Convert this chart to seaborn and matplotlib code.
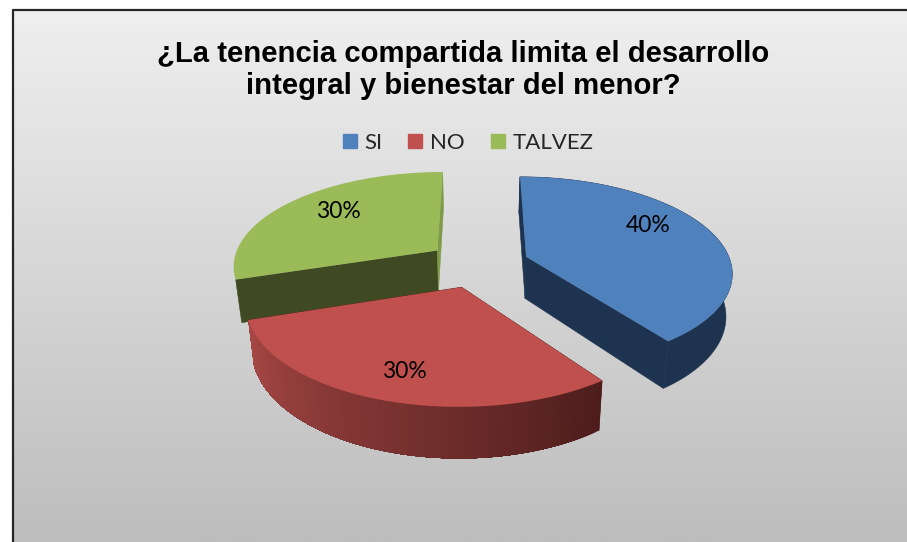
import numpy as np
import matplotlib
matplotlib.use("Agg")
import matplotlib.pyplot as plt
from matplotlib.lines import Line2D
import seaborn as sns

# data
categories = ["SI", "NO", "TALVEZ"]
values = [40, 30, 30]
title = "¿La tenencia compartida limita el desarrollo\nintegral y bienestar del menor?"

top_colors = ["#4f81bd", "#c0504d", "#9bbb59"]
wall_colors = ["#1d3350", "#4d1d1c", "#404a22"]
end_face_colors = ["#1d3350", "#4d1d1c", "#7f9a48"]

# look of the fake 3d pie, in pixels of the 907x542 picture
CX, CY = 478, 264
RX, RY = 205, 94
PERSP = 0.15      # how much nearer parts grow
EXPLODE = 0.25
DEPTH = 42
LOWER_SHRINK = 0.975
label_pos = [(648, 226), (404, 371), (338, 211)]

sns.set_style("white")
plt.rcParams["font.family"] = ["Lato", "DejaVu Sans"]


def project(theta, r, mid, lower=False):
    """theta runs clockwise from the back of the disc, in radians."""
    X = EXPLODE * np.sin(mid) + r * np.sin(theta)
    Z = EXPLODE * np.cos(mid) + r * np.cos(theta)
    s = 1 / (1 + PERSP * Z)
    x = RX * X * s
    y = CY - RY * Z * s
    if lower:
        x = x * LOWER_SHRINK
        y = y + DEPTH * s
    return CX + x, y


def draw_slice(ax, start, end, top, wall, end_face, shade=None, outer=True):
    mid = (start + end) / 2
    thetas = np.linspace(start, end, 90)
    tx, ty = project(thetas, 1.0, mid)
    bx, by = project(thetas, 1.0, mid, lower=True)
    ax0, ay0 = project(0.0, 0.0, mid)
    ax1, ay1 = project(0.0, 0.0, mid, lower=True)

    # flat side faces
    ax.fill([ax0, tx[0], bx[0], ax1], [ay0, ty[0], by[0], ay1], color=wall, lw=0.4, zorder=2)
    ax.fill([ax0, tx[-1], bx[-1], ax1], [ay0, ty[-1], by[-1], ay1], color=end_face, lw=0.4, zorder=2)

    # outer wall: overlapping strips so the shade has no seams
    if outer and shade is None:
        ax.fill(np.r_[tx, bx[::-1]], np.r_[ty, by[::-1]], color=wall, lw=0.4, zorder=2)
    elif outer:
        for i in range(len(thetas) - 1):
            ax.fill(np.r_[tx[i:], bx[i:][::-1]], np.r_[ty[i:], by[i:][::-1]], color=shade[i], lw=0, zorder=2)

    ax.fill(np.r_[ax0, tx], np.r_[ay0, ty], color=top, lw=0, zorder=3)


fig = plt.figure(figsize=(9.07, 5.42), dpi=100, facecolor="white")
ax = fig.add_axes([0, 0, 1, 1])
ax.axis("off")

# background gradient and the frame (runs off right and bottom)
grad = np.linspace(0, 1, 256).reshape(-1, 1)
cmap = sns.blend_palette(["#efefef", "#bdbdbd"], as_cmap=True)
ax.imshow(grad, extent=(14, 907, 542, 10), cmap=cmap, aspect="auto", zorder=0)
ax.plot([13, 13, 907], [542, 10, 10], color="#262626", lw=1.6, zorder=1)
ax.set_xlim(0, 907)
ax.set_ylim(542, 0)

fractions = np.array(values) / sum(values)
edges = np.r_[0, np.cumsum(fractions)] * 2 * np.pi

red_shade = sns.blend_palette(["#4d1d1c", "#6c2c2a", "#8a3a38", "#a84845"], n_colors=89)

# back slices first so the red one sits in front of the green wall
for i in [2, 0, 1]:
    shade = red_shade if i == 1 else None
    # the rim of the green slice faces away from the viewer
    draw_slice(ax, edges[i], edges[i + 1], top_colors[i], wall_colors[i], end_face_colors[i], shade, outer=i != 2)

for (x, y), v in zip(label_pos, values):
    ax.text(x, y, f"{v}%", ha="center", va="center", fontsize=16.5, color="black", zorder=5)

ax.text(463, 70, title, ha="center", va="center", fontsize=21.1, fontweight="bold",
        family=["Liberation Sans"], linespacing=1.17, color="black", zorder=5)

handles = [Line2D([], [], marker="s", ls="none", ms=10.5, color=c) for c in top_colors]
ax.legend(handles, categories, ncol=3, loc="center", bbox_to_anchor=(467.5 / 907, 1 - 143 / 542),
          frameon=False, fontsize=16, handlelength=0.7, handletextpad=0.3, columnspacing=1.15)

fig.savefig("out.png", dpi=100)
